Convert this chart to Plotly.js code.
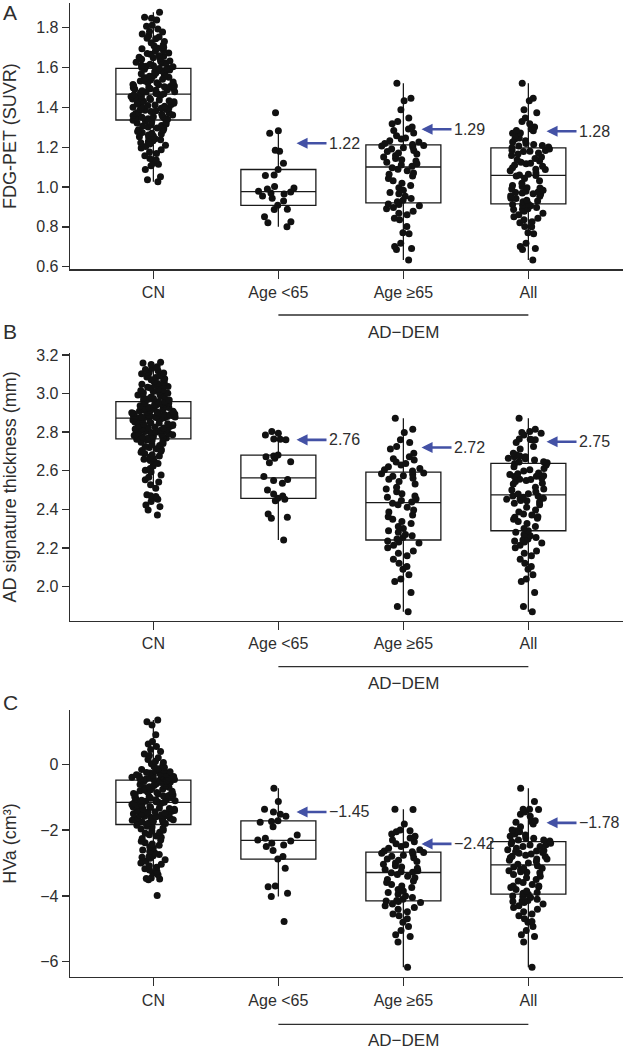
<!DOCTYPE html>
<html>
<head>
<meta charset="utf-8">
<script src="https://cdn.plot.ly/plotly-3.0.1.min.js"></script>
<style>html,body{margin:0;padding:0;background:#fff;}#chart{width:626px;height:1050px;}</style>
</head>
<body>
<div id="chart"></div>
<script>
// ---------------- DATA ----------------
const categories = ['CN', 'Age <65', 'Age ≥65', 'All'];

// Panel A: FDG-PET (SUVR)
const fdgCN = [1.877, 1.852, 1.848, 1.839, 1.812, 1.807, 1.794, 1.781, 1.779, 1.768, 1.760, 1.753,
  1.747, 1.744, 1.731, 1.724, 1.713, 1.709, 1.702, 1.697, 1.694, 1.684, 1.682, 1.673, 1.670, 1.667, 1.659, 1.656, 1.652,
  1.649, 1.646, 1.641, 1.633, 1.632, 1.626, 1.622, 1.621, 1.617, 1.611, 1.609, 1.606, 1.604, 1.600,
  1.598, 1.595, 1.592, 1.591, 1.588, 1.584, 1.579, 1.578, 1.573, 1.569, 1.567, 1.561, 1.557, 1.556, 1.551,
  1.549, 1.547, 1.542, 1.541, 1.538, 1.533, 1.532, 1.527, 1.524, 1.523, 1.518, 1.515, 1.514, 1.508, 1.507, 1.505, 1.503, 1.500,
  1.498, 1.496, 1.493, 1.492, 1.488, 1.486, 1.483, 1.479, 1.477, 1.474, 1.470, 1.468, 1.466, 1.463, 1.461, 1.458, 1.455, 1.453, 1.451,
  1.448, 1.446, 1.442, 1.440, 1.437, 1.433, 1.431, 1.428, 1.424, 1.421, 1.418, 1.414, 1.412, 1.409, 1.406, 1.403, 1.401,
  1.398, 1.396, 1.391, 1.389, 1.386, 1.383, 1.379, 1.376, 1.372, 1.369, 1.366, 1.362, 1.359, 1.356, 1.353, 1.351,
  1.348, 1.346, 1.343, 1.340, 1.337, 1.335, 1.331, 1.328, 1.324, 1.321, 1.317, 1.313, 1.309, 1.306, 1.302,
  1.297, 1.293, 1.288, 1.284, 1.279, 1.274, 1.270, 1.266, 1.261, 1.256, 1.252,
  1.248, 1.243, 1.238, 1.232, 1.227, 1.222, 1.216, 1.210, 1.204,
  1.196, 1.187, 1.176, 1.168, 1.157, 1.143, 1.136, 1.119, 1.114, 1.107, 1.088, 1.052, 1.036, 1.027];
const fdgLt65 = [1.373, 1.283, 1.270, 1.185, 1.180, 1.120, 1.088, 1.060, 1.058, 1.003, 0.995, 0.990, 0.979,
  0.975, 0.970, 0.965, 0.955, 0.944, 0.930, 0.908, 0.889, 0.887, 0.851, 0.826, 0.821, 0.801];
const fdgGe65 = [1.521, 1.446, 1.433, 1.388, 1.346, 1.329, 1.318, 1.302, 1.291, 1.284, 1.271, 1.258, 1.246, 1.241, 1.233, 1.226, 1.219, 1.214,
  1.209, 1.206, 1.201, 1.197, 1.191, 1.184, 1.179, 1.171, 1.166, 1.158, 1.151, 1.143, 1.137, 1.131, 1.124, 1.117, 1.111, 1.104,
  1.097, 1.089, 1.082, 1.071, 1.064, 1.056, 1.043, 1.031, 1.019, 1.008, 0.996, 0.984, 0.973, 0.966, 0.954, 0.943, 0.934, 0.926,
  0.915, 0.912, 0.906, 0.897, 0.891, 0.879, 0.868, 0.861, 0.843, 0.836, 0.802, 0.771, 0.766, 0.718, 0.701, 0.692, 0.687, 0.634];
const fdgMarks = [1.22, 1.29, 1.28];
const fdgTicks = [0.6, 0.8, 1.0, 1.2, 1.4, 1.6, 1.8];

// Panel B: AD signature thickness (mm)
const thkCN = [3.162, 3.158, 3.151, 3.139, 3.131, 3.124, 3.118, 3.112, 3.106, 3.102, 3.097, 3.091, 3.086, 3.083, 3.077,
  3.071, 3.068, 3.062, 3.057, 3.052, 3.048, 3.044, 3.041, 3.036, 3.032, 3.029, 3.024, 3.019, 3.016, 3.011, 3.008, 3.004,
  3.001, 2.997, 2.993, 2.989, 2.985, 2.981, 2.978, 2.974, 2.970, 2.966, 2.963, 2.960,
  2.957, 2.955, 2.951, 2.950, 2.946, 2.944, 2.943, 2.939, 2.937, 2.936, 2.932, 2.930, 2.928, 2.927, 2.923, 2.921, 2.919,
  2.918, 2.914, 2.912, 2.910, 2.908, 2.906, 2.904, 2.902, 2.900, 2.898, 2.896, 2.894, 2.892, 2.891, 2.888, 2.887, 2.885,
  2.884, 2.882, 2.881, 2.880, 2.879, 2.878, 2.877, 2.876, 2.876, 2.875,
  2.873, 2.870, 2.869, 2.865, 2.863, 2.862, 2.858, 2.857, 2.853, 2.852, 2.849, 2.847, 2.843, 2.842, 2.838, 2.836, 2.835,
  2.830, 2.829, 2.827, 2.823, 2.821, 2.818, 2.816, 2.815, 2.810, 2.808, 2.807, 2.803, 2.800, 2.798, 2.797, 2.793, 2.790,
  2.789, 2.786, 2.783, 2.782, 2.778, 2.776, 2.775, 2.772, 2.770, 2.769,
  2.766, 2.763, 2.759, 2.756, 2.752, 2.747, 2.741, 2.736, 2.731, 2.725, 2.720, 2.714, 2.709, 2.705, 2.701,
  2.696, 2.689, 2.683, 2.676, 2.670, 2.664, 2.659, 2.653, 2.646, 2.637, 2.625, 2.612, 2.603, 2.594, 2.578, 2.566, 2.553,
  2.542, 2.527, 2.509, 2.475, 2.471, 2.466, 2.457, 2.452, 2.441, 2.422, 2.414, 2.397, 2.371];
const thkLt65 = [2.803, 2.794, 2.785, 2.765, 2.763, 2.760, 2.681, 2.676, 2.672, 2.665, 2.647, 2.642, 2.570,
  2.555, 2.550, 2.535, 2.500, 2.480, 2.469, 2.457, 2.452, 2.445, 2.376, 2.359, 2.354, 2.241];
const thkGe65 = [2.872, 2.815, 2.798, 2.760, 2.746, 2.725, 2.712, 2.690, 2.673, 2.662, 2.656, 2.645, 2.638, 2.630, 2.620, 2.612, 2.605, 2.598,
  2.588, 2.584, 2.581, 2.574, 2.571, 2.561, 2.556, 2.544, 2.531, 2.514, 2.506, 2.491, 2.481, 2.469, 2.463, 2.454, 2.446, 2.438,
  2.432, 2.424, 2.411, 2.397, 2.386, 2.371, 2.361, 2.349, 2.337, 2.326, 2.311, 2.301, 2.289, 2.281, 2.269, 2.263, 2.254, 2.246,
  2.236, 2.231, 2.226, 2.214, 2.201, 2.184, 2.172, 2.159, 2.141, 2.121, 2.104, 2.089, 2.061, 2.039, 2.026, 1.969, 1.896, 1.870];
const thkMarks = [2.76, 2.72, 2.75];
const thkTicks = [2.0, 2.2, 2.4, 2.6, 2.8, 3.0, 3.2];

// Panel C: HVa (cm³)
const hvaCN = [1.345, 1.294, 1.190, 0.893, 0.688, 0.617, 0.542, 0.446, 0.384, 0.312, 0.263, 0.197, 0.142, 0.088, 0.051,
  0.012, -0.034, -0.071, -0.098, -0.134, -0.158, -0.193, -0.207, -0.231, -0.252, -0.268, -0.291, -0.302, -0.318, -0.334,
  -0.349, -0.357, -0.372, -0.381, -0.396, -0.408, -0.421, -0.428, -0.439, -0.447, -0.458, -0.463, -0.469, -0.474,
  -0.489, -0.507, -0.523, -0.538, -0.552, -0.571, -0.584, -0.602, -0.617, -0.633, -0.648, -0.662, -0.681, -0.697, -0.712,
  -0.728, -0.741, -0.759, -0.776, -0.792, -0.808, -0.823, -0.841, -0.857, -0.872, -0.888, -0.903, -0.921, -0.937, -0.952,
  -0.968, -0.983, -1.001, -1.017, -1.032, -1.048, -1.063, -1.079, -1.094, -1.108, -1.121, -1.133, -1.142, -1.151,
  -1.158, -1.176, -1.192, -1.207, -1.223, -1.238, -1.251, -1.268, -1.282, -1.297, -1.313, -1.327, -1.342, -1.358, -1.371,
  -1.387, -1.402, -1.418, -1.431, -1.447, -1.462, -1.478, -1.491, -1.507, -1.522, -1.538, -1.551, -1.567, -1.582, -1.598,
  -1.611, -1.627, -1.642, -1.658, -1.671, -1.687, -1.702, -1.718, -1.731, -1.747, -1.762, -1.771, -1.783, -1.801,
  -1.823, -1.851, -1.882, -1.909, -1.942, -1.968, -2.004, -2.031, -2.063, -2.098, -2.142, -2.178, -2.221, -2.259, -2.302,
  -2.341, -2.383, -2.422, -2.461, -2.503, -2.548, -2.602, -2.651, -2.697, -2.742, -2.779, -2.801, -2.823, -2.858, -2.903,
  -2.948, -3.002, -3.041, -3.083, -3.128, -3.177, -3.214, -3.262, -3.309, -3.358, -3.458, -3.471, -3.489, -3.507, -3.990];
const hvaLt65 = [-0.73, -1.13, -1.37, -1.45, -1.52, -1.58, -1.72, -1.74, -1.76, -1.90, -2.15, -2.25, -2.30,
  -2.33, -2.40, -2.45, -2.50, -2.62, -2.80, -2.88, -3.16, -3.70, -3.72, -3.92, -4.02, -4.78];
const hvaGe65 = [-1.367, -1.372, -1.812, -1.995, -2.021, -2.048, -2.117, -2.186, -2.243, -2.305, -2.352, -2.418, -2.446, -2.497, -2.552, -2.596, -2.634, -2.661,
  -2.683, -2.704, -2.728, -2.765, -2.797, -2.842, -2.876, -2.915, -2.958, -3.004, -3.036, -3.081, -3.124, -3.158, -3.197, -3.236, -3.268, -3.283,
  -3.296, -3.347, -3.402, -3.446, -3.503, -3.548, -3.596, -3.652, -3.698, -3.746, -3.803, -3.851, -3.897, -3.948, -4.003, -4.049, -4.101, -4.142,
  -4.158, -4.171, -4.203, -4.248, -4.302, -4.349, -4.402, -4.478, -4.553, -4.604, -4.698, -4.803, -4.931, -5.048, -5.182, -5.231, -5.402, -6.170];
const hvaMarks = [-1.45, -2.42, -1.78];
const hvaTicks = [-6, -4, -2, 0];

const groupLabel = 'AD\u2212DEM';

// ---------------- LAYOUT HELPERS ----------------
const W = 626, H = 1050, ML = 70, MR = 3, MT = 3, MB = 73;
const PW = W - ML - MR, PH = H - MT - MB;
const px = p => (p - ML) / PW;
const py = p => (H - MB - p) / PH;
const FONT = 'Liberation Sans, Arial, Helvetica, sans-serif';
const INK = '#2e2e2e';

const panels = [
  {sfx: '', groups: [fdgCN, fdgLt65, fdgGe65], marks: fdgMarks, ticks: fdgTicks, fmt: '.1f',
   range: [0.587, 1.924], top: 3, bottom: 269.3, title: 'FDG-PET (SUVR)', standoff: 18,
   letter: 'A', letterY: 13, lineY: 315, groupY: 332},
  {sfx: '2', groups: [thkCN, thkLt65, thkGe65], marks: thkMarks, ticks: thkTicks, fmt: '.1f',
   range: [1.823, 3.210], top: 353, bottom: 620.7, title: 'AD signature thickness (mm)', standoff: 18,
   letter: 'B', letterY: 331, lineY: 666.7, groupY: 683},
  {sfx: '3', groups: [hvaCN, hvaLt65, hvaGe65], marks: hvaMarks, ticks: hvaTicks, fmt: 'd',
   range: [-6.464, 1.648], top: 710, bottom: 977, title: 'HVa (cm³)', standoff: 22,
   letter: 'C', letterY: 702, lineY: 1024.3, groupY: 1040}
];

const traces = [];
const layout = {
  width: W, height: H,
  margin: {l: ML, r: MR, t: MT, b: MB},
  paper_bgcolor: '#ffffff', plot_bgcolor: '#ffffff',
  font: {family: FONT, color: INK, size: 16},
  showlegend: false, boxmode: 'overlay',
  annotations: [], shapes: []
};

panels.forEach(p => {
  const xa = 'x' + p.sfx, ya = 'y' + p.sfx;
  const all = p.groups[1].concat(p.groups[2]);
  const sets = [p.groups[0], p.groups[1], p.groups[2], all];
  sets.forEach((vals, i) => {
    traces.push({
      type: 'box', y: vals, x0: i, width: 0.6, name: categories[i],
      boxpoints: 'all', jitter: 0.6, pointpos: 0,
      marker: {color: '#111111', size: 7, line: {width: 0}},
      line: {color: '#1a1a1a', width: 1.3}, fillcolor: 'rgba(0,0,0,0)',
      whiskerwidth: 0, xaxis: xa, yaxis: ya, hoverinfo: 'y'
    });
  });
  layout['xaxis' + p.sfx] = {
    domain: [0, 1], anchor: ya, type: 'linear', range: [-0.667, 3.757],
    tickvals: [0, 1, 2, 3], ticktext: categories, automargin: false,
    ticks: 'outside', ticklen: 8, tickwidth: 1.3, tickcolor: INK,
    showline: true, linecolor: INK, linewidth: 1.3,
    showgrid: false, zeroline: false, tickfont: {size: 16, color: INK}
  };
  layout['yaxis' + p.sfx] = {
    domain: [py(p.bottom), py(p.top)], anchor: xa, range: p.range,
    tickvals: p.ticks, tickformat: p.fmt, automargin: false,
    ticks: 'outside', ticklen: 7, tickwidth: 1.3, tickcolor: INK,
    showline: true, linecolor: INK, linewidth: 1.3,
    showgrid: false, zeroline: false, tickfont: {size: 16, color: INK},
    title: {text: p.title, font: {size: 18, color: INK}, standoff: p.standoff}
  };
  // panel letter
  layout.annotations.push({xref: 'paper', yref: 'paper', x: px(1), y: py(p.letterY), xanchor: 'left', yanchor: 'middle',
    text: p.letter, showarrow: false, font: {size: 21, color: INK}});
  // AD-DEM bracket line + label
  layout.shapes.push({type: 'line', xref: xa, yref: 'paper', x0: 1, x1: 3, y0: py(p.lineY), y1: py(p.lineY),
    line: {color: INK, width: 1.3}});
  layout.annotations.push({xref: xa, yref: 'paper', x: 2, y: py(p.groupY), xanchor: 'center', yanchor: 'middle',
    text: groupLabel, showarrow: false, font: {size: 17, color: INK}});
  // arrows with values
  p.marks.forEach((v, k) => {
    layout.annotations.push({xref: xa, yref: ya, x: k + 1 + 0.145, y: v,
      text: v.toFixed(2).replace('-', '\u2212'), showarrow: true, ax: 30, ay: 0,
      xanchor: 'left', yanchor: 'middle',
      arrowhead: 2, arrowsize: 0.85, arrowwidth: 2.6, arrowcolor: '#4351a5',
      font: {size: 16, color: INK}, borderpad: 1});
  });
});

Plotly.newPlot('chart', traces, layout, {staticPlot: true, displayModeBar: false});
</script>
</body>
</html>
